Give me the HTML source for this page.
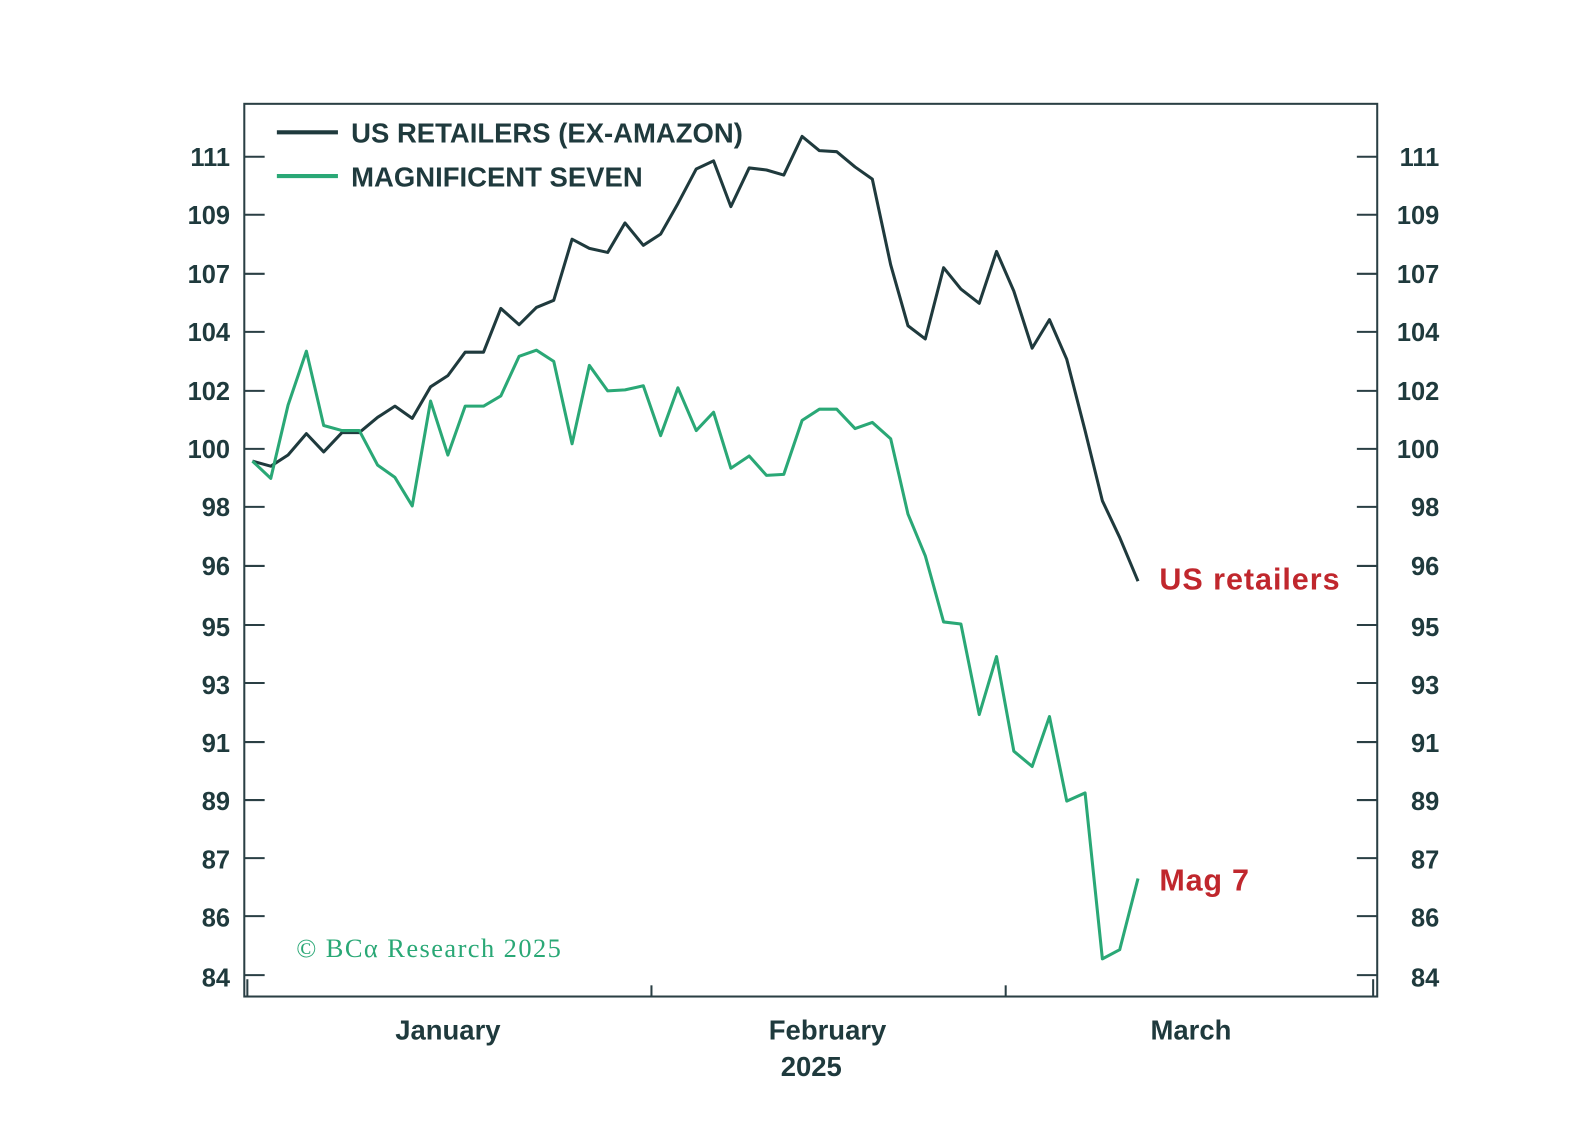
<!DOCTYPE html>
<html><head><meta charset="utf-8"><style>
html,body{margin:0;padding:0;background:#fff;}
svg{display:block;}
text{font-family:"Liberation Sans",sans-serif;}
</style></head><body>
<svg width="1596" height="1144" viewBox="0 0 1596 1144" xmlns="http://www.w3.org/2000/svg">
<g transform="scale(1.0179)">
<rect x="240" y="102" width="1113" height="877" fill="#fff" stroke="#2a3f44" stroke-width="2"/>
<g stroke="#2a3f44" stroke-width="2">
<line x1="640" y1="979" x2="640" y2="968"/><line x1="988" y1="979" x2="988" y2="968"/>
<line x1="243" y1="979" x2="243" y2="962"/><line x1="1349" y1="979" x2="1349" y2="962"/>
</g>
<g stroke="#2a3f44" stroke-width="2">
<line x1="240" y1="154" x2="260" y2="154"/><line x1="1333" y1="154" x2="1353" y2="154"/>
<line x1="240" y1="211" x2="260" y2="211"/><line x1="1333" y1="211" x2="1353" y2="211"/>
<line x1="240" y1="269" x2="260" y2="269"/><line x1="1333" y1="269" x2="1353" y2="269"/>
<line x1="240" y1="326" x2="260" y2="326"/><line x1="1333" y1="326" x2="1353" y2="326"/>
<line x1="240" y1="384" x2="260" y2="384"/><line x1="1333" y1="384" x2="1353" y2="384"/>
<line x1="240" y1="441" x2="260" y2="441"/><line x1="1333" y1="441" x2="1353" y2="441"/>
<line x1="240" y1="498" x2="260" y2="498"/><line x1="1333" y1="498" x2="1353" y2="498"/>
<line x1="240" y1="556" x2="260" y2="556"/><line x1="1333" y1="556" x2="1353" y2="556"/>
<line x1="240" y1="614" x2="260" y2="614"/><line x1="1333" y1="614" x2="1353" y2="614"/>
<line x1="240" y1="671" x2="260" y2="671"/><line x1="1333" y1="671" x2="1353" y2="671"/>
<line x1="240" y1="729" x2="260" y2="729"/><line x1="1333" y1="729" x2="1353" y2="729"/>
<line x1="240" y1="786" x2="260" y2="786"/><line x1="1333" y1="786" x2="1353" y2="786"/>
<line x1="240" y1="843" x2="260" y2="843"/><line x1="1333" y1="843" x2="1353" y2="843"/>
<line x1="240" y1="900" x2="260" y2="900"/><line x1="1333" y1="900" x2="1353" y2="900"/>
<line x1="240" y1="958" x2="260" y2="958"/><line x1="1333" y1="958" x2="1353" y2="958"/>
</g>
<g font-size="25" font-weight="bold" fill="#1f3a3d">
<g text-anchor="end">
<text x="226" y="163">111</text><text x="226" y="220">109</text><text x="226" y="278">107</text><text x="226" y="335">104</text><text x="226" y="393">102</text><text x="226" y="450">100</text><text x="226" y="507">98</text><text x="226" y="565">96</text><text x="226" y="625">95</text><text x="226" y="682">93</text><text x="226" y="739">91</text><text x="226" y="796">89</text><text x="226" y="853">87</text><text x="226" y="910">86</text><text x="226" y="969">84</text>
</g>
<g text-anchor="end">
<text x="1414" y="163">111</text><text x="1414" y="220">109</text><text x="1414" y="278">107</text><text x="1414" y="335">104</text><text x="1414" y="393">102</text><text x="1414" y="450">100</text><text x="1414" y="507">98</text><text x="1414" y="565">96</text><text x="1414" y="625">95</text><text x="1414" y="682">93</text><text x="1414" y="739">91</text><text x="1414" y="796">89</text><text x="1414" y="853">87</text><text x="1414" y="910">86</text><text x="1414" y="969">84</text>
</g>
<g font-size="27" text-anchor="middle">
<text x="440" y="1021">January</text><text x="813" y="1021">February</text><text x="797" y="1057">2025</text><text x="1170" y="1021">March</text>
</g>
</g>
<line x1="272" y1="130" x2="332" y2="130" stroke="#1f3a3d" stroke-width="4"/>
<line x1="272" y1="173" x2="332" y2="173" stroke="#2aa876" stroke-width="4"/>
<text x="345" y="140" font-size="27" font-weight="600" fill="#1f3a3d">US RETAILERS (EX-AMAZON)</text>
<text x="345" y="183" font-size="27" font-weight="600" fill="#1f3a3d">MAGNIFICENT SEVEN</text>
<polyline fill="none" stroke="#1f3a3d" stroke-width="3" stroke-linejoin="round" points="248,453 266,458 283,447 301,426 318,444 336,425 353,425 371,410 388,399 405,411 423,380 440,369 457,346 475,346 492,303 510,319 527,302 544,295 562,235 579,244 597,248 614,219 632,241 649,230 666,200 684,166 701,158 718,203 736,165 753,167 770,172 788,134 805,148 822,149 840,164 857,176 875,260 892,320 909,333 927,263 944,284 962,298 979,247 996,286 1014,342 1031,314 1048,353 1066,423 1083,492 1100,528 1118,571"/>
<polyline fill="none" stroke="#2aa876" stroke-width="3" stroke-linejoin="round" points="248,453 266,470 283,398 301,345 318,418 336,423 353,423 371,457 388,469 405,497 423,394 440,447 457,399 475,399 492,389 510,350 527,344 544,355 562,436 579,359 597,384 614,383 632,379 649,428 666,381 684,423 701,405 718,460 736,448 753,467 770,466 788,413 805,402 822,402 840,421 857,415 875,431 892,505 909,546 927,611 944,613 962,702 979,645 996,738 1014,753 1031,704 1048,787 1066,779 1083,942 1100,933 1118,863"/>
<text x="1139" y="579" font-size="30" font-weight="bold" fill="#c0272d" textLength="177">US retailers</text>
<text x="1139" y="875" font-size="30" font-weight="bold" fill="#c0272d" textLength="88">Mag 7</text>
<text x="291" y="940" font-size="26" fill="#2aa876" textLength="260" style="font-family:'Liberation Serif',serif">© BCα Research 2025</text>
</g>
</svg>
</body></html>
